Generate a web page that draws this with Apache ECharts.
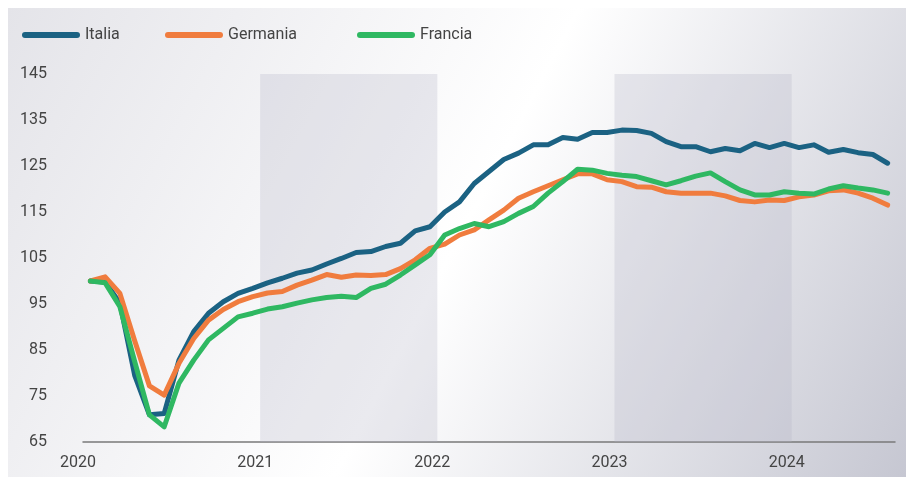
<!doctype html>
<html>
<head>
<meta charset="utf-8">
<title>Italia, Germania, Francia</title>
<script src="https://cdn.jsdelivr.net/npm/echarts@6/dist/echarts.min.js"></script>
<style>html,body,#chart{margin:0;width:906px;height:477px;background:#fff}</style>
</head>
<body>
<div id="chart"></div>
<script>
// 月份：2020-01 ... 2024-07
const mesi = [];
for (let y = 2020; y <= 2024; y++) {
  for (let m = 1; m <= 12; m++) {
    if (y === 2024 && m > 7) break;
    mesi.push(y + "-" + String(m).padStart(2, "0"));
  }
}
const anni = ["2020", "2021", "2022", "2023", "2024"]; // 轴标签

// 指数（2020-01 = 100），从图上读出的估计值
const italia = [
  100, 99.8, 95.2, 79.5, 70.9, 71.2, 82.8, 89, 93, 95.5, 97.3, 98.4,
  99.6, 100.6, 101.7, 102.4, 103.7, 104.9, 106.2, 106.4, 107.5, 108.2, 110.9, 111.8,
  115, 117.2, 121.2, 123.8, 126.4, 127.8, 129.6, 129.6, 131.2, 130.8, 132.3, 132.3,
  132.8, 132.7, 132.1, 130.3, 129.2, 129.2, 128.1, 128.8, 128.3, 129.9, 129, 129.9,
  129, 129.6, 128, 128.6, 127.9, 127.5, 125.6
];
const germania = [
  100, 100.9, 97.3, 87, 77.2, 75.2, 82.1, 87.5, 91.5, 93.8, 95.5, 96.6,
  97.4, 97.7, 99.1, 100.2, 101.4, 100.8, 101.3, 101.2, 101.4, 102.7, 104.6, 107.1,
  108, 110, 111.1, 113.3, 115.4, 118, 119.4, 120.7, 122, 123.3, 123.3, 122,
  121.6, 120.5, 120.4, 119.4, 119.1, 119.1, 119.1, 118.5, 117.5, 117.2, 117.6, 117.5,
  118.3, 118.7, 119.6, 119.8, 119.1, 118, 116.5
];
const francia = [
  100, 99.6, 94.4, 82.5, 70.9, 68.3, 77.8, 82.8, 87.2, 89.7, 92.2, 93,
  93.9, 94.4, 95.2, 95.9, 96.4, 96.7, 96.4, 98.4, 99.3, 101.3, 103.5, 105.7,
  110, 111.4, 112.5, 111.8, 112.9, 114.7, 116.2, 119.1, 121.6, 124.3, 124.1, 123.4,
  123, 122.7, 121.8, 120.9, 121.8, 122.8, 123.5, 121.6, 119.8, 118.7, 118.7, 119.4,
  119.1, 118.9, 120, 120.7, 120.2, 119.8, 119.1
];

const FONT = "Roboto, 'Noto Sans', sans-serif";
const TXT = "#444";

// 点画在每个月的中间
const toPts = (arr) => arr.map((v, i) => [i + 0.5, v]);

// 圆头的图例线
const pill = "path://M3,0 H55 A3,3 0 0 1 55,6 H3 A3,3 0 0 1 3,0 Z";
const legendAt = (name, left) => ({
  data: [name],
  left: left,
  top: 27,
  padding: 0,
  icon: pill,
  itemWidth: 58,
  itemHeight: 6,
  itemGap: 0,
  selectedMode: false,
  textStyle: { fontFamily: FONT, fontSize: 16, color: TXT },
});

const lineSerie = (name, color, data, extra) =>
  Object.assign(
    {
      name: name,
      type: "line",
      data: toPts(data),
      showSymbol: false,
      symbol: "none",
      lineStyle: { color: color, width: 5, join: "round", cap: "round" },
      itemStyle: { color: color },
      emphasis: { disabled: true },
      z: 3,
    },
    extra || {}
  );

const chart = echarts.init(document.getElementById("chart"), null, { renderer: "canvas" });
chart.setOption({
  animation: false,
  graphic: [
    {
      type: "rect",
      z: -100,
      silent: true,
      shape: { x: 8, y: 8, width: 898, height: 469 },
      style: {
        fill: new echarts.graphic.LinearGradient(0, 0, 1, 1, [
          { offset: 0, color: "#e4e4e9" },
          { offset: 0.5, color: "#ffffff" },
          { offset: 1, color: "#c6c7d2" },
        ]),
      },
    },
  ],
  legend: [legendAt("Italia", 22), legendAt("Germania", 165), legendAt("Francia", 357)],
  grid: { left: 83, right: 11, top: 74, bottom: 35 },
  xAxis: {
    type: "value",
    min: 0,
    max: mesi.length,
    interval: 12,
    splitLine: { show: false },
    axisTick: { show: false },
    axisLine: { show: true, lineStyle: { color: "#7a7a7a", width: 1.5 } },
    axisLabel: {
      fontFamily: FONT,
      fontSize: 16,
      color: TXT,
      margin: 13,
      padding: [0, 10, 0, 0],
      showMaxLabel: false,
      formatter: (v) => anni[v / 12] || "",
    },
  },
  yAxis: {
    type: "value",
    min: 65,
    max: 145,
    interval: 10,
    splitLine: { show: false },
    axisTick: { show: false },
    axisLine: { show: false },
    axisLabel: { fontFamily: FONT, fontSize: 16, color: TXT, margin: 36 },
  },
  series: [
    lineSerie("Italia", "#1b6283", italia, {
      markArea: {
        silent: true,
        itemStyle: { color: "rgba(178,180,198,0.28)" },
        data: [
          [{ xAxis: 12 }, { xAxis: 24 }],
          [{ xAxis: 36 }, { xAxis: 48 }],
        ],
      },
    }),
    lineSerie("Germania", "#f07c3e", germania),
    lineSerie("Francia", "#2fb862", francia),
  ],
});
</script>
</body>
</html>
